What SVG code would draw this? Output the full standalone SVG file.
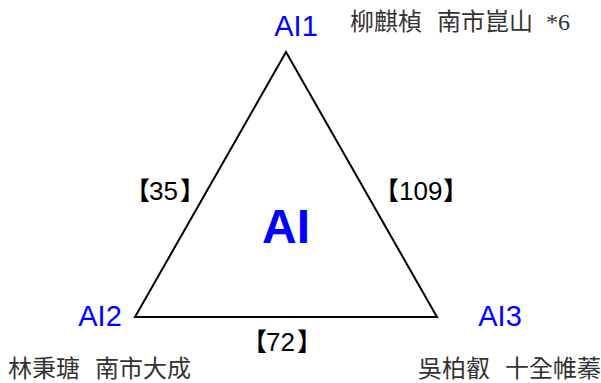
<svg xmlns="http://www.w3.org/2000/svg" width="601" height="383" viewBox="0 0 601 383">
<style>
.ai{font-family:"Liberation Sans",Arial,sans-serif;fill:#0000ff;font-size:29px}
.big{font-size:48px;font-weight:bold}
.num{font-family:"Liberation Sans",Arial,sans-serif;fill:#000;font-size:26px}
.br{font-family:"Noto Sans CJK TC",sans-serif;font-weight:bold;font-size:25px}
.nm{font-family:"Noto Sans CJK TC","Noto Sans CJK SC",sans-serif;fill:#333;font-size:24px}
.ser{font-family:"Liberation Serif",serif}
.edge{fill:none;stroke:#000;stroke-width:2}
</style>
<rect width="601" height="383" fill="#fff"/>
<g id="connectors">
<path class="edge" d="M286,52 L135,317 L437,317 Z"/>
<text class="num" y="200"><tspan class="br" x="125">【</tspan><tspan x="149">35</tspan><tspan class="br" x="180">】</tspan></text>
<text class="num" y="200"><tspan class="br" x="374">【</tspan><tspan x="399">109</tspan><tspan class="br" x="443">】</tspan></text>
<text class="num" y="351"><tspan class="br" x="242">【</tspan><tspan x="266">72</tspan><tspan class="br" x="297">】</tspan></text>
</g>
<g id="center"><text class="ai big" x="286" y="243" text-anchor="middle">AI</text></g>
<g id="ai1">
<text class="ai" x="296" y="36" text-anchor="middle">AI1</text>
<text class="nm" y="30"><tspan x="350">柳麒楨</tspan><tspan x="437">南市崑山</tspan><tspan class="ser" x="546">*6</tspan></text>
</g>
<g id="ai2">
<text class="ai" x="100" y="326" text-anchor="middle">AI2</text>
<text class="nm" y="377"><tspan x="8">林秉瑭</tspan><tspan x="95">南市大成</tspan></text>
</g>
<g id="ai3">
<text class="ai" x="500" y="326" text-anchor="middle">AI3</text>
<text class="nm" y="377"><tspan x="418">吳柏叡</tspan><tspan x="505">十全帷蓁</tspan></text>
</g>
</svg>
